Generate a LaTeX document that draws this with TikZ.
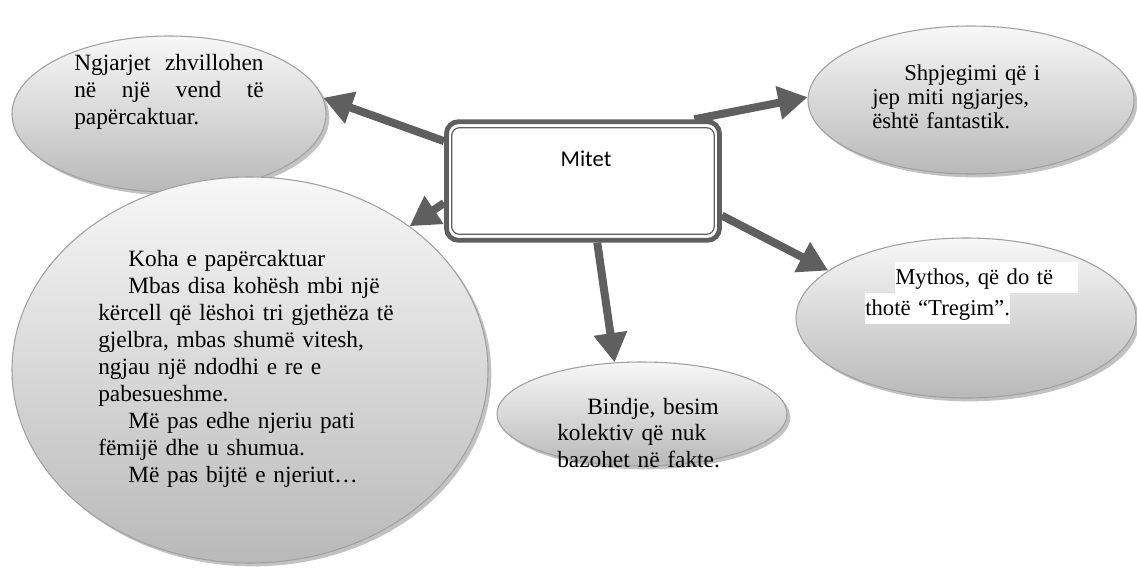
\documentclass[tikz,border=0pt]{standalone}
\usepackage{fontspec}
\setmainfont{Liberation Serif}
\newfontfamily\calibri{Carlito}
\usetikzlibrary{shapes.geometric,shadows,arrows.meta}
\definecolor{arrgray}{RGB}{95,95,95}
\definecolor{rimgray}{RGB}{160,160,160}
\tikzset{
  bubble/.style={ellipse, draw=rimgray, line width=0.8pt, top color=gray!6, bottom color=gray!55,
    drop shadow={shadow xshift=2.5pt,shadow yshift=-2.5pt,opacity=0.6,fill=gray!80}, inner sep=0pt},
  bubbletext/.style={anchor=base west, inner sep=0pt, font=\fontsize{17.5}{20.3}\selectfont},
  thickarrow/.style={draw=arrgray, line width=6pt, -{Triangle[length=22pt,width=24pt]}},
}
\begin{document}
\begin{tikzpicture}[x=0.75pt,y=-0.75pt]
\useasboundingbox (0,0) rectangle (1137,567);

%Shape: Ellipse
\draw (169,114) node (vend) [bubble, minimum width=235.5pt, minimum height=117pt] {};
%Shape: Ellipse
\draw (250,370) node (koha) [bubble, minimum width=357pt, minimum height=289.5pt] {};
%Shape: Ellipse
\draw (971,100) node (fant) [bubble, minimum width=244.5pt, minimum height=111pt] {};
%Shape: Ellipse
\draw (966,318) node (myth) [bubble, minimum width=255pt, minimum height=120pt] {};
%Shape: Ellipse
\draw (642,414) node (bindje) [bubble, minimum width=217.5pt, minimum height=78pt] {};

%Shape: Rounded Rect
\draw (583,181) node (mitet) [rectangle, rounded corners=9pt, draw=arrgray, line width=3.6pt, fill=white, minimum width=204.75pt, minimum height=89pt] {};
\draw (583,181) node (mitetin) [rectangle, rounded corners=6pt, draw=arrgray, line width=0.9pt, minimum width=197pt, minimum height=80pt] {};

%Straight Lines
\draw [thickarrow] (mitet.164) -- (vend.6) ;
\draw [thickarrow] (mitet.189) -- (koha.42) ;
\draw [thickarrow] (mitet.29) -- (fant.179) ;
\draw [thickarrow] (mitet.-14) -- (myth.161) ;
\draw [thickarrow] (mitet.-77) -- (bindje.118) ;

% Text Node
\draw (586,166) node (mitettxt) [anchor=base, inner sep=0pt, font=\calibri\fontsize{17}{20}\selectfont] {Mitet};
% Text Node
\draw (74,70) node (vendtxt) [bubbletext, text width=142pt, align=justify] {Ngjarjet zhvillohen\linebreak në një vend të\linebreak papërcaktuar.};
% Text Node
\draw (98,266) node (kohatxt) [bubbletext, text width=240pt, align=left] {\hspace*{22.5pt}Koha e papërcaktuar\\
\hspace*{22.5pt}Mbas disa kohësh mbi një\\
kërcell që lëshoi tri gjethëza të\\
gjelbra, mbas shumë vitesh,\\
ngjau një ndodhi e re e\\
pabesueshme.\\
\hspace*{22.5pt}Më pas edhe njeriu pati\\
fëmijë dhe u shumua.\\
\hspace*{22.5pt}Më pas bijtë e njeriut…};
% Text Node
\draw (872,80) node (fanttxt) [bubbletext, text width=150pt, align=left, font=\fontsize{17}{18}\selectfont] {\hspace*{24pt}Shpjegimi që i\\
jep miti ngjarjes,\\
është fantastik.};
% Text Node
\draw (865,284) node (mythtxt) [bubbletext, text width=165pt, align=left, font=\fontsize{17}{23.3}\selectfont] {\setlength{\fboxsep}{0pt}\hspace*{22.5pt}\colorbox{white}{\strut\makebox[137pt][s]{Mythos, që do të}}\\
\colorbox{white}{\strut thotë “Tregim”.}};
% Text Node
\draw (557,414) node (bindjetxt) [bubbletext, text width=150pt, align=left, font=\fontsize{17.5}{20}\selectfont] {\hspace*{22.5pt}Bindje, besim\\
kolektiv që nuk\\
bazohet në fakte.};

\end{tikzpicture}
\end{document}
